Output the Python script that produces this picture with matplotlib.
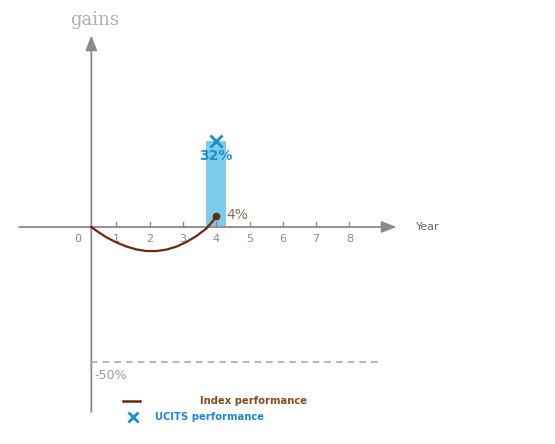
import matplotlib.pyplot as plt
import numpy as np

# schematic data
years = [1, 2, 3, 4, 5, 6, 7, 8]
index_x = [0.25, 0.45, 0.7, 1.0, 1.3, 1.6, 1.9, 2.2, 2.5, 2.8, 3.1, 3.4, 3.7, 3.9, 4.0]
index_y = [0.0, -1.8, -3.8, -5.7, -7.2, -8.3, -8.9, -8.9, -8.4, -7.3, -5.6, -3.4, -0.6, 2.2, 4.0]
index_final = 4
ucits_year = 4
ucits_value = 32
floor_value = -50

grey = '#8a8a8a'
brown = '#6b2a10'
blue = '#1a8fcf'

fig = plt.figure(figsize=(5.55, 4.44), dpi=100)
ax = fig.add_axes([0, 0, 1, 1])
# pixel -> data mapping: x = (px-83)/33.3, y = (227-py)/2.7
ax.set_xlim((0 - 83) / 33.3, (555 - 83) / 33.3)
ax.set_ylim((227 - 444) / 2.7, (227 - 0) / 2.7)
ax.axis('off')

y_axis_x = 0.25

# bar for UCITS
ax.bar(ucits_year, ucits_value, width=0.6, color='#7ccbe8', zorder=1)
ax.plot(ucits_year, ucits_value, marker='x', color=blue, markersize=8, mew=2, zorder=4)
ax.text(ucits_year, ucits_value - 3, '%d%%' % ucits_value, color=blue, fontsize=10,
        fontweight='bold', ha='center', va='top', zorder=4)

# axes
ax.annotate('', xy=(9.5, 0), xytext=(-2.0, 0),
            arrowprops=dict(arrowstyle='-|>,head_width=0.35,head_length=0.9',
                            color=grey, lw=1.3), zorder=2)
ax.annotate('', xy=(y_axis_x, 72), xytext=(y_axis_x, -69.5),
            arrowprops=dict(arrowstyle='-|>,head_width=0.35,head_length=0.9',
                            color=grey, lw=1.3), zorder=2)
for y in years:
    ax.plot([y, y], [0, 2], color=grey, lw=1, zorder=2)
    ax.text(y, -2.5, str(y), color=grey, fontsize=8, ha='center', va='top')
ax.text(-0.15, -2.5, '0', color=grey, fontsize=8, ha='center', va='top')
ax.text(10.0, 0, 'Year', color='#666666', fontsize=8, ha='left', va='center')
ax.text(0.36, 76.5, 'gains', color='#b0b0b0', fontsize=13, family='DejaVu Serif',
        ha='center', va='center')

# floor line
ax.plot([y_axis_x, 8.9], [floor_value, floor_value], color='#aaaaaa', lw=1.2,
        ls=(0, (4, 3)), zorder=2)
ax.text(y_axis_x + 0.1, floor_value - 2.5, '%d%%' % floor_value, color='#999999',
        fontsize=9, ha='left', va='top')

# index performance
ax.plot(index_x, index_y, color=brown, lw=1.6, zorder=3)
ax.plot(ucits_year, index_final, 'o', color=brown, markersize=4.5, zorder=4)
ax.text(ucits_year + 0.3, index_final + 0.5, '%d%%' % index_final, color='#8b6a5a',
        fontsize=10, ha='left', va='center')

# legend
ax.plot([1.2, 1.72], [-64.5, -64.5], color=brown, lw=1.8)
ax.text(3.5, -64.5, 'Index performance', color='#8b4a18', fontsize=7.2,
        fontweight='bold', ha='left', va='center')
ax.plot(1.5, -70.5, marker='x', color=blue, markersize=7, mew=2)
ax.text(2.15, -70.5, 'UCITS performance', color='#1f86e0', fontsize=7.2,
        fontweight='bold', ha='left', va='center')

fig.savefig('out.png', dpi=100)
